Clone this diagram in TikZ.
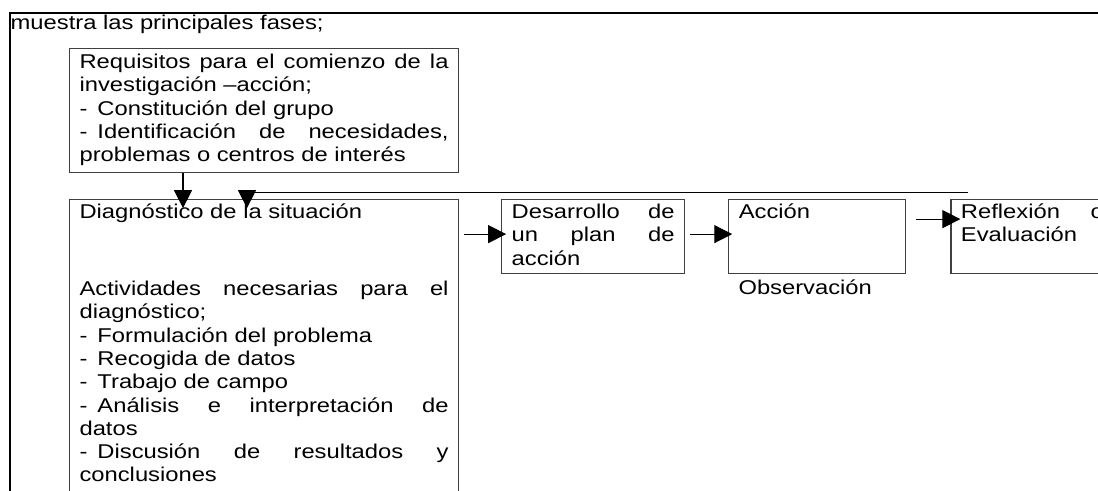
\documentclass[tikz,border=0pt]{standalone}
\usepackage{fontspec}
\setmainfont{Liberation Sans}[FakeStretch=1.19]
\usetikzlibrary{arrows.meta}
\usetikzlibrary{positioning}
\hyphenpenalty=10000
\exhyphenpenalty=10000
\tolerance=9999
\hbadness=10000

\tikzset{
fase/.style={draw=black!75,line width=0.8pt,align=justify,inner xsep=0.25cm,inner ysep=0pt,anchor=north west,font=\fontsize{14.2pt}{16.57pt}\selectfont},
texto/.style={inner sep=0pt,anchor=base west,font=\fontsize{14.2pt}{16.57pt}\selectfont},
flecha/.style={line width=0.8pt,-{Triangle[length=0.45cm,width=0.45cm]}},
}
\newcommand{\guion}{-\hspace{0.25cm}}

\begin{document}
\begin{tikzpicture}
\useasboundingbox (0,0) rectangle (27.45,12.275);
\draw[line width=1.7pt] (0.25,-0.2) -- (0.25,11.95) -- (27.7,11.95);
\node[texto] (intro) at (0.26,11.525) {muestra las principales fases;};

% fases
\node[fase,text width=9.225cm,text height=0.5cm,text depth=2.6cm] (req) at (1.725,11.075) {Requisitos para el comienzo de la\linebreak investigación –acción;\par \guion Constitución del grupo\par \guion Identificación de necesidades,\linebreak problemas o centros de interés};
\node[fase,text width=9.225cm,text height=0.48cm,text depth=12cm] (diag) at ([yshift=-0.65cm]req.south west) {Diagnóstico de la situación\par\vspace{1.335cm}Actividades necesarias para el\linebreak diagnóstico;\par \guion Formulación del problema\par \guion Recogida de datos\par \guion Trabajo de campo\par \guion Análisis e interpretación de\linebreak datos\par \guion Discusión de resultados y\linebreak conclusiones};
\node[fase,text width=4.075cm,text height=0.47cm,text depth=1.38cm] (plan) at ([xshift=1.05cm]diag.north east) {Desarrollo de\linebreak un plan de\linebreak acción};
\node[fase,text width=3.925cm,text height=0.47cm,text depth=1.38cm] (accion) at ([xshift=1.075cm]plan.north east) {Acción};
\node[fase,text width=3.575cm,text height=0.47cm,text depth=1.38cm] (refl) at ([xshift=1.1cm]accion.north east) {Reflexión o\linebreak Evaluación};
\node[texto] (obs) at ([xshift=0.25cm,yshift=-0.5cm]accion.south west) {Observación};

% flechas
\coordinate (t1) at ([xshift=2.85cm,yshift=-0.225cm]diag.north west);
\coordinate (t2) at ([xshift=4.45cm,yshift=-0.225cm]diag.north west);
\coordinate (fb) at ([xshift=0.45cm,yshift=0.16cm]refl.north west);
\draw[flecha] (req.south -| t1) -- (t1);
\draw[flecha] (fb) -- (fb -| t2) -- (t2);
\draw[flecha] ([xshift=-0.925cm,yshift=-0.875cm]plan.north west) -- ([xshift=0.125cm,yshift=-0.875cm]plan.north west);
\draw[flecha] ([xshift=-0.95cm,yshift=-0.875cm]accion.north west) -- ([xshift=0.1cm,yshift=-0.875cm]accion.north west);
\draw[flecha] ([xshift=-0.85cm,yshift=-0.5cm]refl.north west) -- ([xshift=0.25cm,yshift=-0.5cm]refl.north west);

\end{tikzpicture}
\end{document}
